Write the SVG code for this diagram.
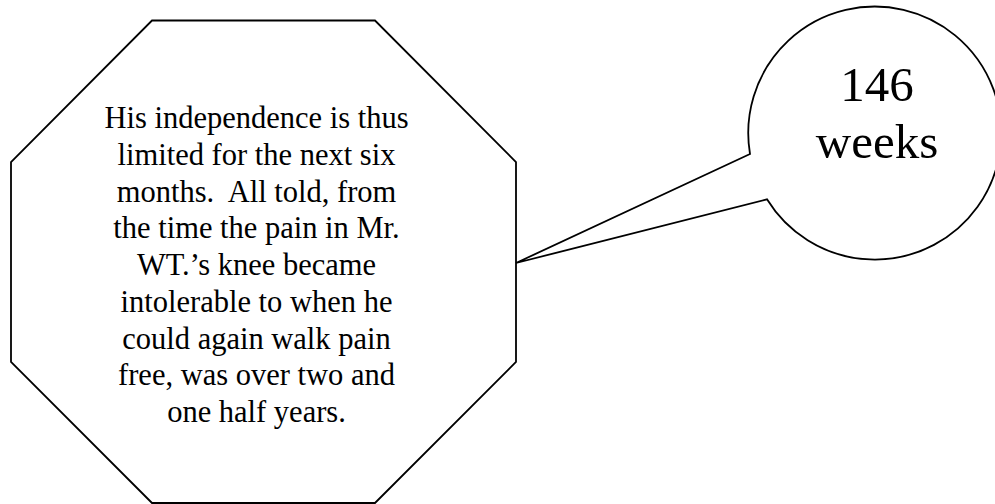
<svg xmlns="http://www.w3.org/2000/svg" width="995" height="504" viewBox="0 0 995 504">
<style>
.shape{fill:#fff;stroke:#000;stroke-width:1.8;stroke-linejoin:miter}
.t{font-family:"Liberation Serif","Times New Roman",serif;fill:#000;text-anchor:middle;white-space:pre}
.body{font-size:30.5px}
.big{font-size:49px}
</style>
<rect width="995" height="504" fill="#fff"/>
<g id="octagon">
<polygon class="shape" points="152,20.5 375,20.5 516,162 516,362 375,503 152,503 11,362 11,162"/>
<text class="t body" x="256.5" y="128">His independence is thus</text>
<text class="t body" x="256.5" y="164.8">limited for the next six</text>
<text class="t body" x="256.5" y="201.5" xml:space="preserve">months.  All told, from</text>
<text class="t body" x="256.5" y="238.3">the time the pain in Mr.</text>
<text class="t body" x="256.5" y="275">WT.’s knee became</text>
<text class="t body" x="256.5" y="311.8">intolerable to when he</text>
<text class="t body" x="256.5" y="348.5">could again walk pain</text>
<text class="t body" x="256.5" y="385.3">free, was over two and</text>
<text class="t body" x="256.5" y="422">one half years.</text>
</g>
<g id="connectors"></g>
<g id="callout">
<path class="shape" d="M750,154 L516,263 L767,199.3 A126.5,126.5 0 1 0 750,154 Z"/>
<text class="t big" x="877" y="101">146</text>
<text class="t big" x="877" y="157.5">weeks</text>
</g>
</svg>
